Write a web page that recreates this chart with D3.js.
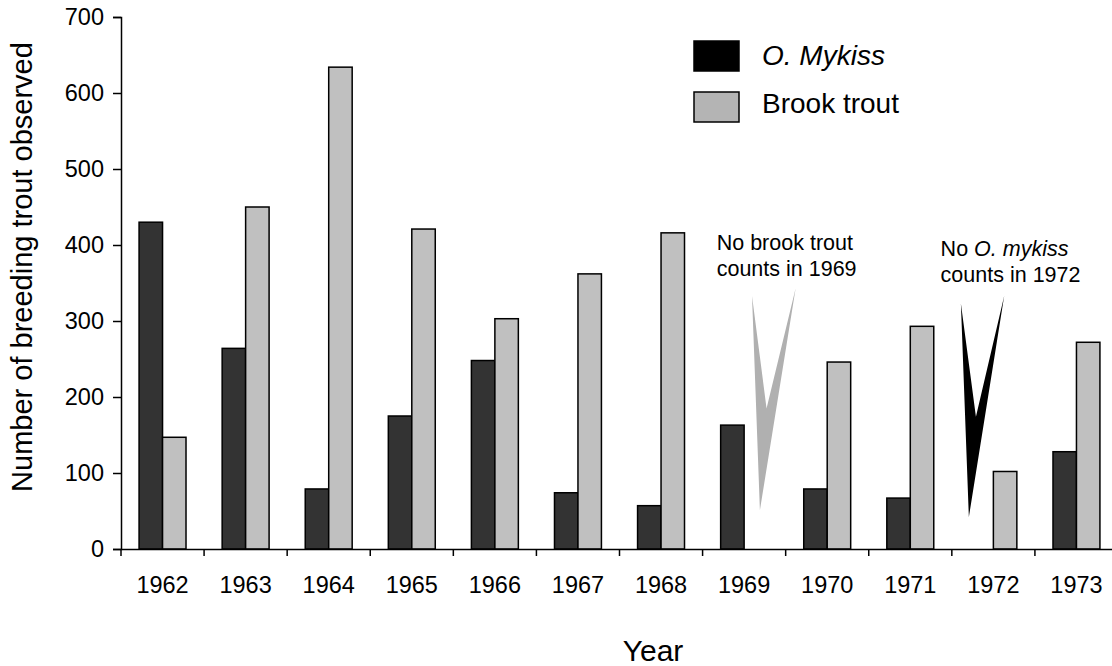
<!DOCTYPE html>
<html>
<head>
<meta charset="utf-8">
<script src="https://cdn.jsdelivr.net/npm/d3@7"></script>
<style>
    body { margin: 0; background: #fff; }
    svg { display: block; font-family: "Liberation Sans", Arial, sans-serif; }
</style>
</head>
<body>
<div id="chart"></div>
<script>
// Breeding trout counts by year

const years = ['1962', '1963', '1964', '1965', '1966', '1967', '1968', '1969', '1970', '1971', '1972', '1973'];
const mykissCounts = [430, 264, 79, 175, 248, 74, 57, 163, 79, 67, null, 128];
const brookCounts = [147, 450, 634, 421, 303, 362, 416, null, 246, 293, 102, 272];
const yTicks = [0, 100, 200, 300, 400, 500, 600, 700];
const seriesKeys = ['mykiss', 'brook'];

function createTroutChart() {
    const width = 1112;
    const height = 666;
    const margin = { top: 17, left: 121, bottom: 117 };
    const plotW = 997;
    const plotH = height - margin.top - margin.bottom;

    const svg = d3.select('#chart').append('svg')
        .attr('width', width)
        .attr('height', height);

    const g = svg.append('g')
        .attr('transform', `translate(${margin.left},${margin.top})`);

    const data = years.map((yr, i) => ({ year: yr, mykiss: mykissCounts[i], brook: brookCounts[i] }));

    // Scales
    const x0 = d3.scaleBand()
        .domain(years)
        .range([0, plotW]);

    const x1 = d3.scaleBand()
        .domain(seriesKeys)
        .range([0, x0.bandwidth()])
        .paddingOuter(0.77);

    const y = d3.scaleLinear()
        .domain([0, 700])
        .range([plotH, 0]);

    const fills = { mykiss: '#333333', brook: '#c0c0c0' };

    // Bars
    const groups = g.selectAll('.year')
        .data(data)
        .enter()
        .append('g')
        .attr('transform', d => `translate(${x0(d.year)},0)`);

    groups.selectAll('rect')
        .data(d => seriesKeys.filter(k => d[k] != null).map(k => ({ key: k, value: d[k] })))
        .enter()
        .append('rect')
        .attr('x', d => x1(d.key))
        .attr('y', d => y(d.value))
        .attr('width', x1.bandwidth())
        .attr('height', d => plotH - y(d.value))
        .attr('fill', d => fills[d.key])
        .attr('stroke', '#000')
        .attr('stroke-width', 1.5);

    // Axes
    const yAxis = g.append('g')
        .call(d3.axisLeft(y).tickValues(yTicks).tickSize(8).tickPadding(9));

    const xAxis = g.append('g')
        .attr('transform', `translate(0,${plotH})`)
        .call(d3.axisBottom(x0).tickSize(0).tickPadding(27));

    // tick marks between the year groups
    xAxis.selectAll('.sep')
        .data(years)
        .enter()
        .append('line')
        .attr('x1', d => x0(d))
        .attr('x2', d => x0(d))
        .attr('y1', 0)
        .attr('y2', 7)
        .attr('stroke', '#000')
        .attr('stroke-width', 1.5);

    [yAxis, xAxis].forEach(ax => {
        ax.selectAll('.domain').attr('stroke', '#000').attr('stroke-width', 1.5);
        ax.selectAll('.tick line').attr('stroke', '#000').attr('stroke-width', 1.5);
        ax.selectAll('text')
            .attr('fill', '#000')
            .attr('font-size', '23.5px')
            .attr('font-family', '"Liberation Sans", Arial, sans-serif');
    });

    // Axis titles
    svg.append('text')
        .attr('x', margin.left + 532)
        .attr('y', 661)
        .attr('text-anchor', 'middle')
        .attr('font-size', '30px')
        .text('Year');

    svg.append('text')
        .attr('transform', 'rotate(-90)')
        .attr('x', -267)
        .attr('y', 32)
        .attr('text-anchor', 'middle')
        .attr('font-size', '29px')
        .text('Number of breeding trout observed');

    // Pointer annotations for missing counts (offsets as fraction of band, heights in counts)
    const pointers = [
        { year: '1969', fill: '#b0b0b0', pts: [[0.595, 333], [0.770, 185], [1.120, 343], [0.690, 51]] },
        { year: '1972', fill: '#000000', pts: [[0.109, 323], [0.290, 174], [0.630, 333], [0.205, 42]] }
    ];

    g.selectAll('.pointer')
        .data(pointers)
        .enter()
        .append('path')
        .attr('fill', d => d.fill)
        .attr('d', d => d3.line()(d.pts.map(p => [x0(d.year) + p[0] * x0.bandwidth(), y(p[1])])) + 'Z');

    const notes = [
        { year: '1969', dx: 0.17, lines: [['No brook trout'], ['counts in 1969']] },
        { year: '1972', dx: -0.135, lines: [['No ', 'O. mykiss'], ['counts in 1972']] }
    ];

    notes.forEach((n, i) => {
        const t = g.append('text')
            .attr('x', x0(n.year) + n.dx * x0.bandwidth())
            .attr('y', y(i === 0 ? 394 : 386))
            .attr('font-size', '21.5px');
        n.lines.forEach((parts, li) => {
            parts.forEach((p, pi) => {
                const ts = t.append('tspan').text(p);
                if (pi === 0) ts.attr('x', x0(n.year) + n.dx * x0.bandwidth()).attr('dy', li === 0 ? 0 : 26.5);
                if (pi === 1) ts.attr('font-style', 'italic');
            });
        });
    });

    // Legend
    const legend = svg.append('g')
        .attr('transform', 'translate(694,41)');

    const legendItems = [
        { label: 'O. Mykiss', fill: '#000000', italic: true },
        { label: 'Brook trout', fill: '#b4b4b4', italic: false }
    ];

    legendItems.forEach((item, i) => {
        legend.append('rect')
            .attr('x', 0)
            .attr('y', i * 51)
            .attr('width', 45)
            .attr('height', 30)
            .attr('fill', item.fill)
            .attr('stroke', '#000')
            .attr('stroke-width', 1.5);

        legend.append('text')
            .attr('x', 68)
            .attr('y', 24 + i * 48)
            .attr('font-size', '28px')
            .attr('font-style', item.italic ? 'italic' : 'normal')
            .text(item.label);
    });
}

createTroutChart();
</script>
</body>
</html>
